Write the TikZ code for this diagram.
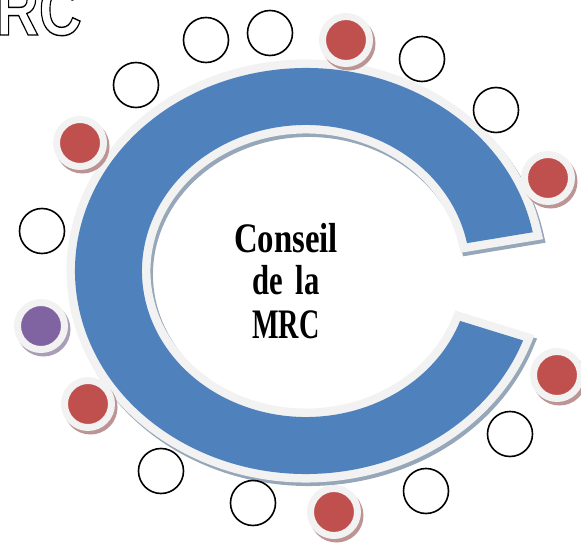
\documentclass[tikz,border=0pt]{standalone}
\usepackage{fontspec}
\usepackage{graphicx}
\usetikzlibrary{calc}
\newfontfamily\titlefont{Liberation Serif}
\newfontfamily\rcfont{Liberation Sans}
\definecolor{blueC}{HTML}{4F81BD}
\definecolor{ringW}{HTML}{F2F2F2}
\definecolor{redC}{HTML}{C0504D}
\definecolor{purpleC}{HTML}{8064A2}
\definecolor{redshadow}{HTML}{BC9494}
\definecolor{purpleshadow}{HTML}{A99DB8}
\definecolor{ringshadow}{HTML}{97A7BA}
\begin{document}
\begin{tikzpicture}[x=1pt,y=1pt,
  emptydot/.style={circle, draw=black, line width=1.6pt, fill=white, minimum size=45pt, inner sep=0pt},
  colordot/.style={circle, fill=#1, draw=ringW, line width=7pt, minimum size=47pt, inner sep=0pt},
  reddot/.style={colordot=redC, preaction={draw=redshadow, fill=redshadow, line width=7pt, transform canvas={xshift=2.5pt,yshift=-3.5pt}}},
  purpledot/.style={colordot=purpleC, preaction={draw=purpleshadow, fill=purpleshadow, line width=7pt, transform canvas={xshift=2.5pt,yshift=-3.5pt}}},
  titletext/.style={anchor=base, inner sep=0pt, font=\titlefont\bfseries\fontsize{42}{42}\selectfont}
]
\useasboundingbox (0,0) rectangle (581,547);
\clip (0,0) rectangle (581,547);
\coordinate (c) at (306,276);
\def\ringpath{($(c)+(11:231 and 203)$) arc[start angle=11,end angle=340,x radius=231,y radius=203] -- ($(c)+(340:164 and 146)$) arc[start angle=340,end angle=11,x radius=164,y radius=146] -- cycle}
% ring shadow
\draw[draw=ringshadow, fill=ringshadow, line width=17pt, line join=miter, transform canvas={xshift=2.5pt,yshift=-3.5pt}] \ringpath;
% ring border and fill
\draw[draw=ringW, line width=17pt, line join=miter] \ringpath;
\fill[blueC] \ringpath;

% title
\node[titletext] (t1) at (286,294) {\scalebox{0.78}[1]{Conseil}};
\node[titletext] (t2) at (286,252) {\scalebox{0.73}[1]{de\hspace{18pt}la}};
\node[titletext] (t3) at (286,209) {\scalebox{0.67}[1]{MRC}};

% outlined RC (cut off at the top edge, as in the reference)
\node[anchor=base west, inner sep=0pt, font=\rcfont\bfseries\fontsize{74}{74}\selectfont] (rc) at (-4,512) {\scalebox{0.8}[1]{\special{pdf:literal direct 1 Tr 1.4 w}RC\special{pdf:literal direct 0 Tr}}};

% empty circles
\node[emptydot] (w1) at (206,507) {};
\node[emptydot] (w2) at (270,514) {};
\node[emptydot] (w3) at (422,488) {};
\node[emptydot] (w4) at (496,437) {};
\node[emptydot] (w5) at (136,462) {};
\node[emptydot] (w6) at (42,316) {};
\node[emptydot] (w7) at (510,113) {};
\node[emptydot] (w8) at (161,76) {};
\node[emptydot] (w9) at (253,44) {};
\node[emptydot] (w10) at (426,56) {};

% coloured circles
\node[reddot] (r1) at (346,507) {};
\node[reddot] (r2) at (80,404) {};
\node[reddot] (r3) at (548,369) {};
\node[reddot] (r4) at (557,172) {};
\node[reddot] (r5) at (88,143) {};
\node[reddot] (r6) at (334,35) {};
\node[purpledot] (p1) at (41,221) {};
\end{tikzpicture}
\end{document}
